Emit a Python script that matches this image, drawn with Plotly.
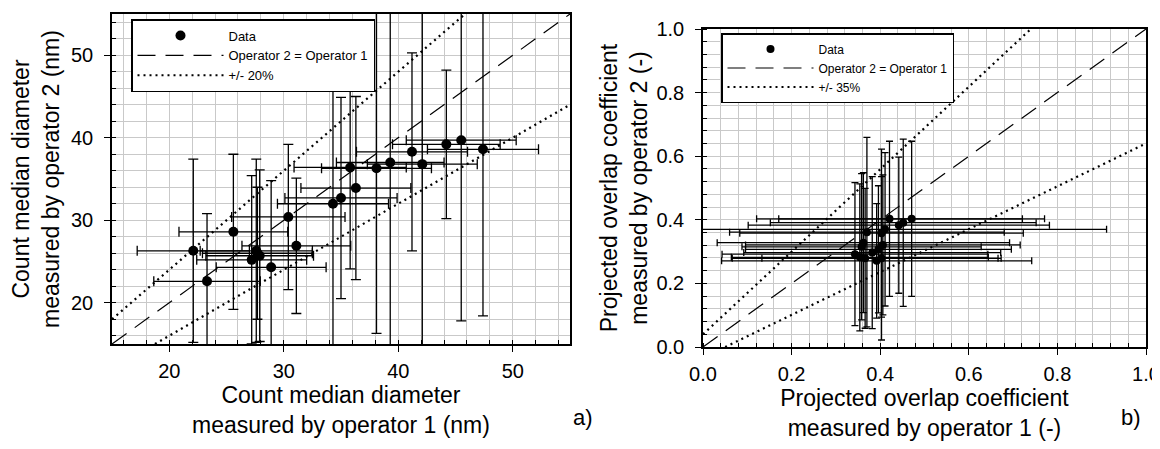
import plotly.graph_objects as go

# panel a) count median diameter (nm), operator 1 vs operator 2
cmd_op1 = [22.1, 23.3, 25.6, 27.2, 27.6, 27.9, 28.9, 30.4, 31.1, 34.3, 35.0,
           36.3, 35.8, 38.1, 39.3, 41.2, 42.1, 44.2, 45.5, 47.4, 27.7]
cmd_op2 = [26.3, 22.6, 28.6, 25.2, 26.3, 25.7, 24.3, 30.4, 26.9, 32.0, 32.7,
           33.9, 36.4, 36.3, 37.0, 38.3, 36.8, 39.2, 39.7, 38.6, 26.0]
cmd_err_op1 = [4.9, 4.65, 4.75, 4.8, 4.9, 4.7, 4.8, 4.95, 4.75, 4.85, 4.9,
               4.8, 4.9, 4.8, 4.7, 4.85, 4.8, 4.7, 4.8, 4.85, 4.8]
cmd_err_op2 = [11.1, 8.2, 9.4, 10.2, 11.1, 10.4, 10.5, 8.8, 8.2, 18.0, 12.2,
               11.1, 12.3, 20.0, 23.0, 12.0, 23.0, 9.0, 21.9, 20.2, 8.0]

# reference lines, panel a)
a_equal_x = [15, 55]
a_equal_y = [15, 55]
a_upper_x = [15, 45.83]
a_upper_y = [18, 55]
a_lower_x = [18.75, 55]
a_lower_y = [15, 44]

# panel b) projected overlap coefficient (-)
poc_op1 = [0.343, 0.354, 0.358, 0.362, 0.366, 0.370, 0.382, 0.392, 0.396,
           0.403, 0.403, 0.406, 0.411, 0.421, 0.442, 0.452, 0.471]
poc_op2 = [0.292, 0.282, 0.315, 0.328, 0.279, 0.361, 0.297, 0.271, 0.307,
           0.279, 0.358, 0.321, 0.370, 0.403, 0.383, 0.391, 0.403]
poc_err_op1 = [0.30, 0.29, 0.27, 0.33, 0.30, 0.31, 0.29, 0.35, 0.30,
               0.27, 0.32, 0.31, 0.50, 0.30, 0.34, 0.30, 0.30]
poc_err_op2 = [0.225, 0.231, 0.23, 0.22, 0.22, 0.298, 0.239, 0.18, 0.20,
               0.257, 0.264, 0.22, 0.241, 0.244, 0.214, 0.263, 0.244]

# reference lines, panel b)
b_equal_x = [0, 1]
b_equal_y = [0, 1]
b_upper_x = [0, 0.74]
b_upper_y = [0.04, 1.0]
b_lower_x = [0.05, 1.0]
b_lower_y = [0.0, 0.64]

FONT = "Liberation Sans, Arial, sans-serif"
GRID = "#c9c9c9"

# the page body adds 8px of margin, so the figure is drawn 8px smaller
W, H = 1152, 441


def px(x0, x1):
    return [x0 / W, x1 / W]


def py(top, bottom):
    return [1 - bottom / H, 1 - top / H]


fig = go.Figure()


def add_panel(fig, xs, ys, ex, ey, eq, up, lo, band_label, xa, ya, legend,
              msize, capw):
    fig.add_trace(go.Scatter(
        x=xs, y=ys, mode="markers", name="Data", xaxis=xa, yaxis=ya,
        legend=legend,
        marker=dict(color="black", size=msize),
        error_x=dict(type="data", array=ex, color="black", thickness=1.3, width=capw),
        error_y=dict(type="data", array=ey, color="black", thickness=1.3, width=capw),
    ))
    fig.add_trace(go.Scatter(
        x=eq[0], y=eq[1], mode="lines", name="Operator 2 = Operator 1",
        xaxis=xa, yaxis=ya, legend=legend,
        line=dict(color="black", width=1.2, dash="18px,10px"),
    ))
    fig.add_trace(go.Scatter(
        x=up[0], y=up[1], mode="lines", name=band_label, xaxis=xa, yaxis=ya,
        legend=legend, legendgroup=band_label + legend,
        line=dict(color="black", width=2.2, dash="2px,4px"),
    ))
    fig.add_trace(go.Scatter(
        x=lo[0], y=lo[1], mode="lines", name=band_label, xaxis=xa, yaxis=ya,
        legend=legend, legendgroup=band_label + legend, showlegend=False,
        line=dict(color="black", width=2.2, dash="2px,4px"),
    ))


add_panel(fig, cmd_op1, cmd_op2, cmd_err_op1, cmd_err_op2,
          (a_equal_x, a_equal_y), (a_upper_x, a_upper_y), (a_lower_x, a_lower_y),
          "+/- 20%", "x", "y", "legend", 10, 5)
add_panel(fig, poc_op1, poc_op2, poc_err_op1, poc_err_op2,
          (b_equal_x, b_equal_y), (b_upper_x, b_upper_y), (b_lower_x, b_lower_y),
          "+/- 35%", "x2", "y2", "legend2", 8, 3.5)


def axis(domain, rng, dtick, minor_dtick, title, anchor, standoff,
         fmt=None, label_gap=2):
    ax = dict(
        domain=domain, range=rng, dtick=dtick, tick0=0, automargin=False,
        anchor=anchor,
        showline=True, linecolor="black", linewidth=1.5, mirror=True,
        ticks="outside", ticklen=6, tickwidth=1.3, tickcolor="black",
        ticklabelstandoff=label_gap,
        showgrid=True, gridcolor=GRID, gridwidth=1, zeroline=False,
        minor=dict(dtick=minor_dtick, showgrid=True, gridcolor=GRID, gridwidth=1,
                   ticks="inside", ticklen=4, tickcolor="black", tickwidth=1),
        tickfont=dict(size=20, color="black", family=FONT),
        title=dict(text=title, font=dict(size=23, color="black", family=FONT),
                   standoff=standoff),
    )
    if fmt:
        ax["tickformat"] = fmt
    return ax


fig.update_layout(
    width=W, height=H,
    margin=dict(l=0, r=0, t=0, b=0, autoexpand=False),
    paper_bgcolor="white", plot_bgcolor="white",
    font=dict(family=FONT, color="black"),
    xaxis=axis(px(104, 562), [15, 55], 10, 2,
               "Count median diameter<br>measured by operator 1 (nm)", "y", 6),
    yaxis=axis(py(6, 336), [15, 55], 10, 2,
               "Count median diameter<br>measured by operator 2 (nm)", "x", 8,
               label_gap=7),
    xaxis2=axis(px(695, 1138), [0, 1], 0.2, 0.04,
                "Projected overlap coefficient<br>measured by operator 1 (-)",
                "y2", 6, fmt=".1f"),
    yaxis2=axis(py(21, 339), [0, 1], 0.2, 0.04,
                "Projected overlap coefficient<br>measured by operator 2 (-)",
                "x2", 2, fmt=".1f", label_gap=7),
    legend=dict(x=123 / W, y=1 - 11 / H, xanchor="left", yanchor="top",
                bgcolor="white", bordercolor="black", borderwidth=1.5,
                itemwidth=86, font=dict(size=13, family=FONT, color="black"),
                tracegroupgap=0),
    legend2=dict(x=713 / W, y=1 - 25 / H, xanchor="left", yanchor="top",
                 bgcolor="white", bordercolor="black", borderwidth=1.5,
                 itemwidth=86, font=dict(size=12, family=FONT, color="black"),
                 tracegroupgap=0),
    annotations=[
        dict(text="a)", x=575 / W, y=1 - 424 / H, xref="paper", yref="paper",
             showarrow=False, font=dict(size=22, family=FONT, color="black")),
        dict(text="b)", x=1135 / W, y=1 - 424 / H, xref="paper", yref="paper",
             showarrow=False, font=dict(size=22, family=FONT, color="black")),
    ],
)

fig.write_html("out.html")
